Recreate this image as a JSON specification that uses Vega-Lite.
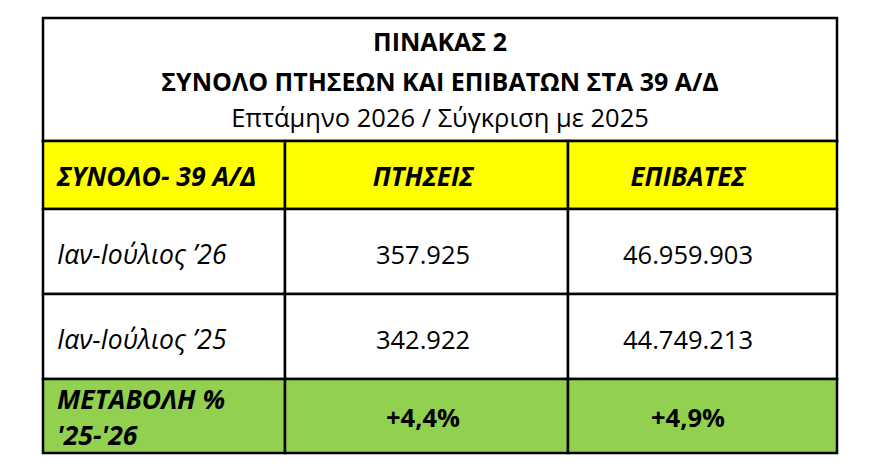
{
  "$schema": "https://vega.github.io/schema/vega-lite/v6.json",
  "width": 873,
  "height": 470,
  "autosize": {"type": "none"},
  "padding": 0,
  "background": "white",
  "config": {
    "view": {"stroke": null},
    "font": "Open Sans",
    "locale": {"number": {"decimal": ",", "thousands": ".", "grouping": [3], "currency": ["", " €"]}}
  },
  "title": {
    "text": ["ΠΙΝΑΚΑΣ 2", "ΣΥΝΟΛΟ ΠΤΗΣΕΩΝ ΚΑΙ ΕΠΙΒΑΤΩΝ ΣΤΑ 39 Α/Δ"],
    "subtitle": "Επτάμηνο 2026 / Σύγκριση με 2025",
    "anchor": "middle",
    "font": "Open Sans",
    "fontSize": 25,
    "fontWeight": "bold",
    "color": "black",
    "lineHeight": 40,
    "subtitleFont": "Open Sans",
    "subtitleFontSize": 25.5,
    "subtitleFontWeight": "normal",
    "subtitleColor": "black",
    "subtitlePadding": 11,
    "offset": -132,
    "dx": 3.5
  },
  "datasets": {
    "cells": [
      {"row": 0, "rowEnd": 1, "col": 0, "colEnd": 3, "section": "title"},
      {"row": 1, "rowEnd": 2, "col": 0, "colEnd": 1, "section": "header"},
      {"row": 1, "rowEnd": 2, "col": 1, "colEnd": 2, "section": "header"},
      {"row": 1, "rowEnd": 2, "col": 2, "colEnd": 3, "section": "header"},
      {"row": 2, "rowEnd": 3, "col": 0, "colEnd": 1, "section": "body"},
      {"row": 2, "rowEnd": 3, "col": 1, "colEnd": 2, "section": "body"},
      {"row": 2, "rowEnd": 3, "col": 2, "colEnd": 3, "section": "body"},
      {"row": 3, "rowEnd": 4, "col": 0, "colEnd": 1, "section": "body"},
      {"row": 3, "rowEnd": 4, "col": 1, "colEnd": 2, "section": "body"},
      {"row": 3, "rowEnd": 4, "col": 2, "colEnd": 3, "section": "body"},
      {"row": 4, "rowEnd": 5, "col": 0, "colEnd": 1, "section": "change"},
      {"row": 4, "rowEnd": 5, "col": 1, "colEnd": 2, "section": "change"},
      {"row": 4, "rowEnd": 5, "col": 2, "colEnd": 3, "section": "change"}
    ],
    "labels": [
      {"row": 1, "col": 0, "role": "labelBold", "text": "ΣΥΝΟΛΟ- 39 Α/Δ"},
      {"row": 1, "col": 1, "role": "header", "text": "ΠΤΗΣΕΙΣ"},
      {"row": 1, "col": 2, "role": "header", "text": "ΕΠΙΒΑΤΕΣ"},
      {"row": 2, "col": 0, "role": "label", "text": "Ιαν-Ιούλιος ’26"},
      {"row": 2, "col": 1, "role": "value", "value": 357925},
      {"row": 2, "col": 2, "role": "value", "value": 46959903},
      {"row": 3, "col": 0, "role": "label", "text": "Ιαν-Ιούλιος ’25"},
      {"row": 3, "col": 1, "role": "value", "value": 342922},
      {"row": 3, "col": 2, "role": "value", "value": 44749213},
      {"row": 4, "col": 0, "role": "changeLabel", "text": ["ΜΕΤΑΒΟΛΗ %", "'25-'26"]},
      {"row": 4, "col": 1, "role": "change", "value": 0.044},
      {"row": 4, "col": 2, "role": "change", "value": 0.049}
    ]
  },
  "resolve": {"scale": {"x": "independent", "y": "independent"}},
  "layer": [
    {
      "data": {"name": "cells"},
      "mark": {"type": "rect", "stroke": "black", "strokeWidth": 2.5},
      "encoding": {
        "x": {"field": "col", "type": "quantitative", "axis": null,
              "scale": {"domain": [0, 1, 2, 3], "range": [43, 285, 568, 837], "zero": false, "nice": false}},
        "x2": {"field": "colEnd"},
        "y": {"field": "row", "type": "quantitative", "axis": null,
              "scale": {"domain": [0, 1, 2, 3, 4, 5], "range": [18, 141, 209, 294, 379, 453], "zero": false, "nice": false}},
        "y2": {"field": "rowEnd"},
        "fill": {"field": "section", "type": "nominal", "legend": null,
                 "scale": {"domain": ["title", "header", "body", "change"], "range": ["#ffffff", "#ffff00", "#ffffff", "#92d050"]}}
      }
    },
    {
      "data": {"name": "labels"},
      "encoding": {
        "x": {"field": "col", "type": "quantitative", "axis": null,
              "scale": {"domain": [0, 1, 2], "range": [57, 423, 688], "zero": false, "nice": false}},
        "y": {"field": "row", "type": "quantitative", "axis": null,
              "scale": {"domain": [1, 2, 3, 4], "range": [178, 256, 341, 419], "zero": false, "nice": false}}
      },
      "layer": [
        {
          "transform": [{"filter": "datum.role == 'label'"}],
          "mark": {"type": "text", "align": "left", "baseline": "middle", "fontSize": 26.5, "fontStyle": "italic", "color": "black"},
          "encoding": {"text": {"field": "text", "type": "nominal"}}
        },
        {
          "transform": [{"filter": "datum.role == 'labelBold'"}],
          "mark": {"type": "text", "align": "left", "baseline": "middle", "fontSize": 26.5, "fontStyle": "italic", "fontWeight": "bold", "color": "black"},
          "encoding": {"text": {"field": "text", "type": "nominal"}}
        },
        {
          "transform": [{"filter": "datum.role == 'changeLabel'"}],
          "mark": {"type": "text", "align": "left", "baseline": "middle", "fontSize": 26.5, "fontStyle": "italic", "fontWeight": "bold", "lineHeight": 36, "dy": -18, "color": "black"},
          "encoding": {"text": {"field": "text", "type": "nominal"}}
        },
        {
          "transform": [{"filter": "datum.role == 'header'"}],
          "mark": {"type": "text", "align": "center", "baseline": "middle", "fontSize": 26, "fontStyle": "italic", "fontWeight": "bold", "color": "black"},
          "encoding": {"text": {"field": "text", "type": "nominal"}}
        },
        {
          "transform": [{"filter": "datum.role == 'value'"}],
          "mark": {"type": "text", "align": "center", "baseline": "middle", "fontSize": 25.5, "color": "black"},
          "encoding": {"text": {"field": "value", "type": "quantitative", "format": ",d"}}
        },
        {
          "transform": [{"filter": "datum.role == 'change'"}],
          "mark": {"type": "text", "align": "center", "baseline": "middle", "fontSize": 25.5, "fontWeight": "bold", "color": "black"},
          "encoding": {"text": {"field": "value", "type": "quantitative", "format": "+.1%"}}
        }
      ]
    }
  ]
}
